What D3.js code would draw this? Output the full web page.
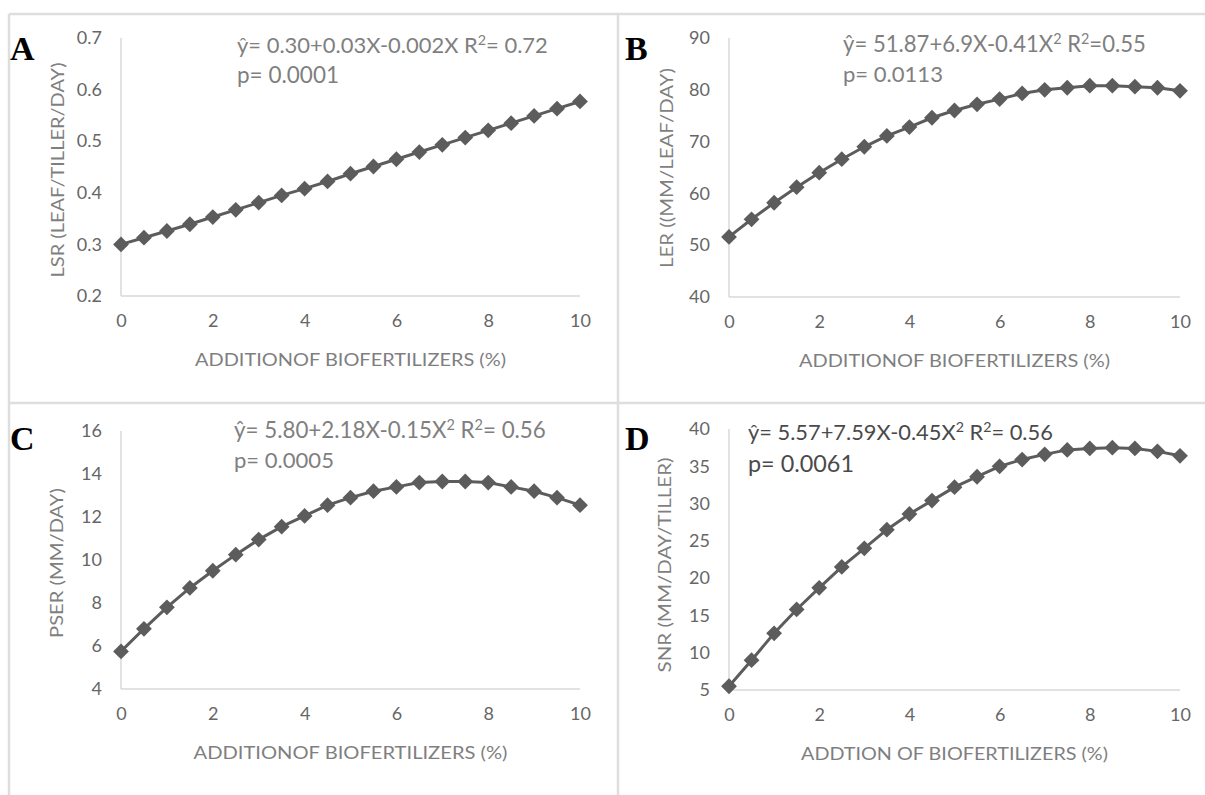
<!DOCTYPE html>
<meta charset="utf-8">
<script src="https://d3js.org/d3.v7.min.js"></script>
<style>
  body { margin: 0; background: #fff; }
  text { font-family: Lato, "Open Sans", sans-serif; }
</style>
<div id="chart"></div>
<script>
  // biofertilizer addition (%)
  var xValues = [0, 0.5, 1, 1.5, 2, 2.5, 3, 3.5, 4, 4.5, 5, 5.5, 6, 6.5, 7, 7.5, 8, 8.5, 9, 9.5, 10];
  var xTicks = [0, 2, 4, 6, 8, 10];

  // values
  var lsr  = [0.300, 0.313, 0.326, 0.339, 0.353, 0.367, 0.381, 0.395, 0.408, 0.422, 0.437,
              0.451, 0.465, 0.479, 0.493, 0.507, 0.521, 0.535, 0.549, 0.563, 0.577];
  var ler  = [51.6, 55.0, 58.2, 61.2, 64.0, 66.6, 69.0, 71.1, 72.8, 74.6, 76.0,
              77.2, 78.2, 79.3, 80.0, 80.4, 80.8, 80.8, 80.6, 80.4, 79.8];
  var pser = [5.75, 6.8, 7.8, 8.7, 9.5, 10.25, 10.95, 11.55, 12.05, 12.55, 12.9,
              13.2, 13.4, 13.6, 13.65, 13.65, 13.6, 13.4, 13.2, 12.9, 12.55];
  var snr  = [5.5, 9.0, 12.6, 15.8, 18.7, 21.5, 24.0, 26.5, 28.6, 30.4, 32.2,
              33.6, 35.0, 35.9, 36.6, 37.2, 37.4, 37.5, 37.4, 37.0, 36.4];

  var yTicksA = [0.2, 0.3, 0.4, 0.5, 0.6, 0.7];
  var yTicksB = [40, 50, 60, 70, 80, 90];
  var yTicksC = [4, 6, 8, 10, 12, 14, 16];
  var yTicksD = [5, 10, 15, 20, 25, 30, 35, 40];

  var letters = ["A", "B", "C", "D"];
  var yTitles = ["LSR (LEAF/TILLER/DAY)", "LER ((MM/LEAF/DAY)", "PSER (MM/DAY)", "SNR (MM/DAY/TILLER)"];
  var xTitles = ["ADDITIONOF BIOFERTILIZERS (%)", "ADDITIONOF BIOFERTILIZERS (%)",
                 "ADDITIONOF BIOFERTILIZERS (%)", "ADDTION OF BIOFERTILIZERS (%)"];
  // equation lines: [text, sup, text, sup, text]
  var equations = [
    ["ŷ= 0.30+0.03X-0.002X R", "", "", "2", "= 0.72"],
    ["ŷ= 51.87+6.9X-0.41X", "2", "  R", "2", "=0.55"],
    ["ŷ= 5.80+2.18X-0.15X", "2", " R", "2", "= 0.56"],
    ["ŷ= 5.57+7.59X-0.45X", "2", " R", "2", "= 0.56"]
  ];
  var pValues = ["p= 0.0001", "p= 0.0113", "p= 0.0005", "p= 0.0061"];

  var width = 1205, height = 795;
  var svg = d3.select("#chart").append("svg")
    .attr("width", width)
    .attr("height", height);

  // panel frame lines
  var frame = svg.append("g").attr("stroke", "#dedede").attr("stroke-width", 2.5);
  frame.append("line").attr("x1", 9).attr("x2", width).attr("y1", 14).attr("y2", 14);
  frame.append("line").attr("x1", 9).attr("x2", 9).attr("y1", 14).attr("y2", height);
  frame.append("line").attr("x1", 618).attr("x2", 618).attr("y1", 14).attr("y2", height);
  frame.append("line").attr("x1", 9).attr("x2", width).attr("y1", 403).attr("y2", 403);

  var panels = [
    {data: lsr,  ticks: yTicksA, fmt: d3.format(".1f"), left: 121, right: 580, top: 38,  bottom: 296,
     lx: 10,  ly: 60,  ex: 237, ey: 53,  ew: 311, py: 83,  pw: 102, xtw: 311, tx: 64,  tc: 170, ytw: 215},
    {data: ler,  ticks: yTicksB, fmt: d3.format("d"),   left: 729, right: 1180, top: 38, bottom: 297,
     lx: 625, ly: 60,  ex: 843, ey: 52,  ew: 303, py: 82,  pw: 100, xtw: 311, tx: 673, tc: 168, ytw: 200},
    {data: pser, ticks: yTicksC, fmt: d3.format("d"),   left: 121, right: 580, top: 431, bottom: 689,
     lx: 10,  ly: 450, ex: 234, ey: 438, ew: 312, py: 468, pw: 100, xtw: 314, tx: 63,  tc: 563, ytw: 150},
    {data: snr,  ticks: yTicksD, fmt: d3.format("d"),   left: 729, right: 1180, top: 429, bottom: 690,
     lx: 625, ly: 450, ex: 748, ey: 440, ew: 305, py: 472, pw: 106, xtw: 307, tx: 671, tc: 565, ytw: 215}
  ];

  var marker = d3.symbol().type(d3.symbolSquare).size(125);

  // scale a text's font size so it spans the wanted width
  function fitWidth(sel, w) {
    var base = parseFloat(sel.style("font-size"));
    var len = sel.node().getComputedTextLength();
    sel.style("font-size", (base * w / len) + "px");
  }

  panels.forEach(function(p, i) {
    var g = svg.append("g");
    var x = d3.scaleLinear().domain([0, 10]).range([p.left, p.right]);
    var y = d3.scaleLinear().domain(d3.extent(p.ticks)).range([p.bottom, p.top]);

    // axes
    var xAxis = g.append("g")
      .attr("transform", "translate(0," + p.bottom + ")")
      .call(d3.axisBottom(x).tickValues(xTicks).tickSize(0).tickPadding(18).tickFormat(d3.format("d")));
    var yAxis = g.append("g")
      .attr("transform", "translate(" + p.left + ",0)")
      .call(d3.axisLeft(y).tickValues(p.ticks).tickSize(0).tickPadding(19).tickFormat(p.fmt));
    [xAxis, yAxis].forEach(function(a) {
      a.select(".domain").attr("stroke", "#d9d9d9").attr("stroke-width", 1.5);
      a.selectAll("text").attr("fill", "#666").style("font-size", "18px");
    });
    xAxis.select(".domain").attr("d", "M" + p.left + ",0H" + p.right);
    yAxis.select(".domain").attr("d", "M0," + p.top + "V" + p.bottom);

    // line and diamonds
    var pts = xValues.map(function(v, k) { return [v, p.data[k]]; });
    g.append("path")
      .datum(pts)
      .attr("fill", "none")
      .attr("stroke", "#5c5c5c")
      .attr("stroke-width", 3)
      .attr("d", d3.line().x(function(d) { return x(d[0]); }).y(function(d) { return y(d[1]); }));
    g.selectAll(".pt")
      .data(pts)
      .enter()
      .append("path")
        .attr("d", marker)
        .attr("fill", "#5c5c5c")
        .attr("transform", function(d) { return "translate(" + x(d[0]) + "," + y(d[1]) + ")rotate(45)"; });

    // panel letter
    g.append("text")
      .attr("x", p.lx).attr("y", p.ly)
      .style("font-family", "'Liberation Serif', 'Times New Roman', serif")
      .style("font-weight", "bold")
      .style("font-size", "34px")
      .attr("fill", "#000")
      .text(letters[i]);

    // axis titles
    g.append("text")
      .attr("x", (p.left + p.right) / 2)
      .attr("y", p.bottom + 70)
      .attr("text-anchor", "middle")
      .attr("textLength", p.xtw)
      .attr("lengthAdjust", "spacingAndGlyphs")
      .attr("fill", "#7f7f7f")
      .style("font-size", "18px")
      .text(xTitles[i]);
    g.append("text")
      .attr("transform", "translate(" + p.tx + "," + p.tc + ")rotate(-90)")
      .attr("text-anchor", "middle")
      .attr("textLength", p.ytw)
      .attr("lengthAdjust", "spacingAndGlyphs")
      .attr("fill", "#7f7f7f")
      .style("font-size", "17px")
      .text(yTitles[i]);

    // regression equation
    var eqColor = i === 3 ? "#4a4a4a" : "#7f7f7f";
    var eq = g.append("text")
      .attr("x", p.ex).attr("y", p.ey)
      .attr("fill", eqColor)
      .style("font-size", "20px");
    var e = equations[i];
    eq.append("tspan").text(e[0]);
    if (e[1]) eq.append("tspan").attr("dy", -8).style("font-size", "0.65em").text(e[1]);
    if (e[2]) eq.append("tspan").attr("dy", e[1] ? 8 : 0).text(e[2]);
    eq.append("tspan").attr("dy", -8).style("font-size", "0.65em").text(e[3]);
    eq.append("tspan").attr("dy", 8).text(e[4]);
    fitWidth(eq, p.ew);

    var pv = g.append("text")
      .attr("x", p.ex).attr("y", p.py)
      .attr("fill", eqColor)
      .style("font-size", "20px")
      .text(pValues[i]);
    fitWidth(pv, p.pw);
  });
</script>
